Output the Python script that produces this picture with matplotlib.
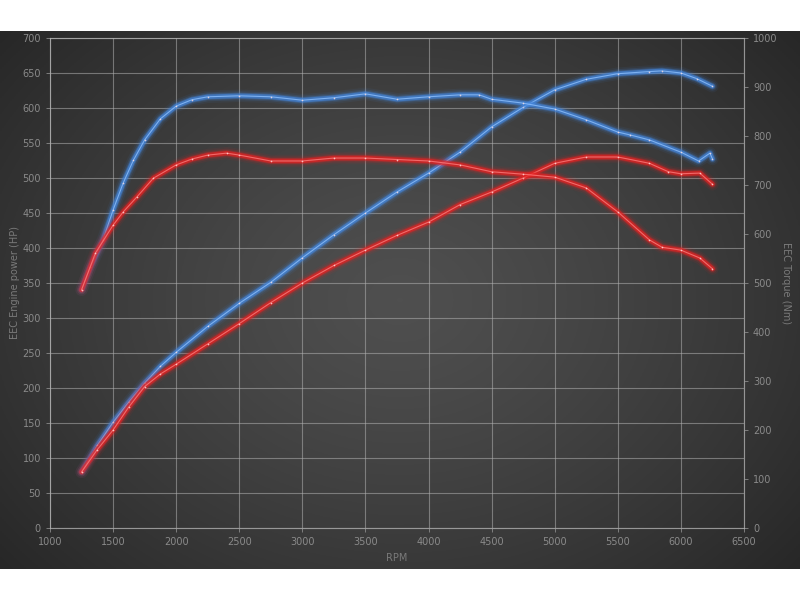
import numpy as np
import matplotlib
matplotlib.use("Agg")
import matplotlib.pyplot as plt

# power curves (HP, left axis)
rpm_pow_blue = [1250, 1375, 1500, 1625, 1750, 1875, 2000, 2250, 2500, 2750, 3000, 3250, 3500, 3750,
                4000, 4250, 4500, 4750, 5000, 5250, 5500, 5750, 5850, 6000, 6125, 6250]
hp_blue = [80, 118, 151, 180, 207, 231, 251, 288, 321, 351, 386, 419, 450, 480,
           507, 537, 573, 601, 626, 641, 649, 652, 653, 650, 642, 631]

rpm_pow_red = [1250, 1375, 1500, 1625, 1750, 1875, 2000, 2250, 2500, 2750, 3000, 3250, 3500, 3750,
               4000, 4250, 4500, 4750, 5000, 5250, 5500, 5750, 5900, 6000, 6150, 6250]
hp_red = [80, 112, 140, 173, 202, 220, 234, 263, 292, 322, 350, 375, 397, 418,
          437, 462, 480, 500, 521, 530, 530, 521, 509, 506, 507, 491]

# torque curves (Nm, right axis)
rpm_tq_blue = [1250, 1320, 1420, 1500, 1580, 1660, 1750, 1875, 2000, 2125, 2250, 2500, 2750, 3000,
               3250, 3500, 3750, 4000, 4250, 4400, 4500, 4750, 5000, 5250, 5500, 5600, 5750,
               6000, 6140, 6230, 6250]
nm_blue = [486, 533, 588, 649, 704, 750, 792, 835, 861, 874, 880, 882, 880, 873,
           878, 886, 875, 880, 884, 884, 875, 867, 855, 833, 808, 802, 792,
           767, 749, 765, 753]

rpm_tq_red = [1250, 1360, 1500, 1580, 1690, 1820, 2000, 2125, 2250, 2400, 2500, 2750, 3000,
              3250, 3500, 3750, 4000, 4250, 4500, 4750, 5000, 5250, 5500, 5750, 5850,
              6000, 6150, 6250]
nm_red = [486, 561, 618, 645, 676, 714, 741, 753, 761, 765, 761, 749, 749,
          755, 755, 752, 749, 741, 727, 722, 716, 694, 645, 588, 573,
          567, 551, 529]

BLUE = "#4486dc"
BLUE_CORE = "#8cc0ff"
RED = "#e52222"
RED_CORE = "#ff7a7a"


def glow(ax, x, y, col, core):
    for lw, a in [(9, 0.07), (6.5, 0.14), (4.5, 0.32), (3.2, 0.65)]:
        ax.plot(x, y, color=col, lw=lw, alpha=a, solid_capstyle="round",
                solid_joinstyle="round")
    ax.plot(x, y, color=core, lw=0.8, alpha=0.8, marker="o", ms=1.2,
            mfc="#ffe0e0", mec="none", solid_joinstyle="round")


fig = plt.figure(figsize=(8, 6), dpi=100)
fig.patch.set_facecolor("white")

# dark radial-gradient backdrop
bg = fig.add_axes([0, (600 - 569) / 600, 1, 538 / 600])
yy, xx = np.mgrid[-1:1:300j, -1:1:400j]
r = np.sqrt(xx ** 2 + (yy * 0.85) ** 2)
v = np.clip(0.31 - 0.11 * r ** 1.3, 0.15, 0.32)
bg.imshow(np.dstack([v, v, v]), aspect="auto", extent=[0, 1, 0, 1])
bg.axis("off")

ax = fig.add_axes([0.0625, 0.12, 0.8675, 0.8167])
ax.patch.set_alpha(0)
ax2 = ax.twinx()

ax.set_xlim(1000, 6500)
ax.set_ylim(0, 700)
ax2.set_ylim(0, 1000)
ax.set_xticks(range(1000, 6501, 500))
ax.set_yticks(range(0, 701, 50))
ax2.set_yticks(range(0, 1001, 100))

ax.grid(True, color="#b0b0b0", lw=0.8, alpha=0.55)
for a in (ax, ax2):
    for s in a.spines.values():
        s.set_color("#b0b0b0")
        s.set_alpha(0.55)
        s.set_linewidth(0.8)
    a.tick_params(colors="#8a8a8a", labelsize=7, length=3, width=0.6)

glow(ax, rpm_pow_blue, hp_blue, BLUE, BLUE_CORE)
glow(ax, rpm_pow_red, hp_red, RED, RED_CORE)
glow(ax2, rpm_tq_blue, nm_blue, BLUE, BLUE_CORE)
glow(ax2, rpm_tq_red, nm_red, RED, RED_CORE)

ax.set_xlabel("RPM", color="#7a7a7a", fontsize=7, labelpad=4)
ax.set_ylabel("EEC Engine power (HP)", color="#7a7a7a", fontsize=7, labelpad=2)
ax2.set_ylabel("EEC Torque (Nm)", color="#7a7a7a", fontsize=7, rotation=-90, labelpad=10)

fig.savefig("out.png", dpi=100, facecolor=fig.get_facecolor())
